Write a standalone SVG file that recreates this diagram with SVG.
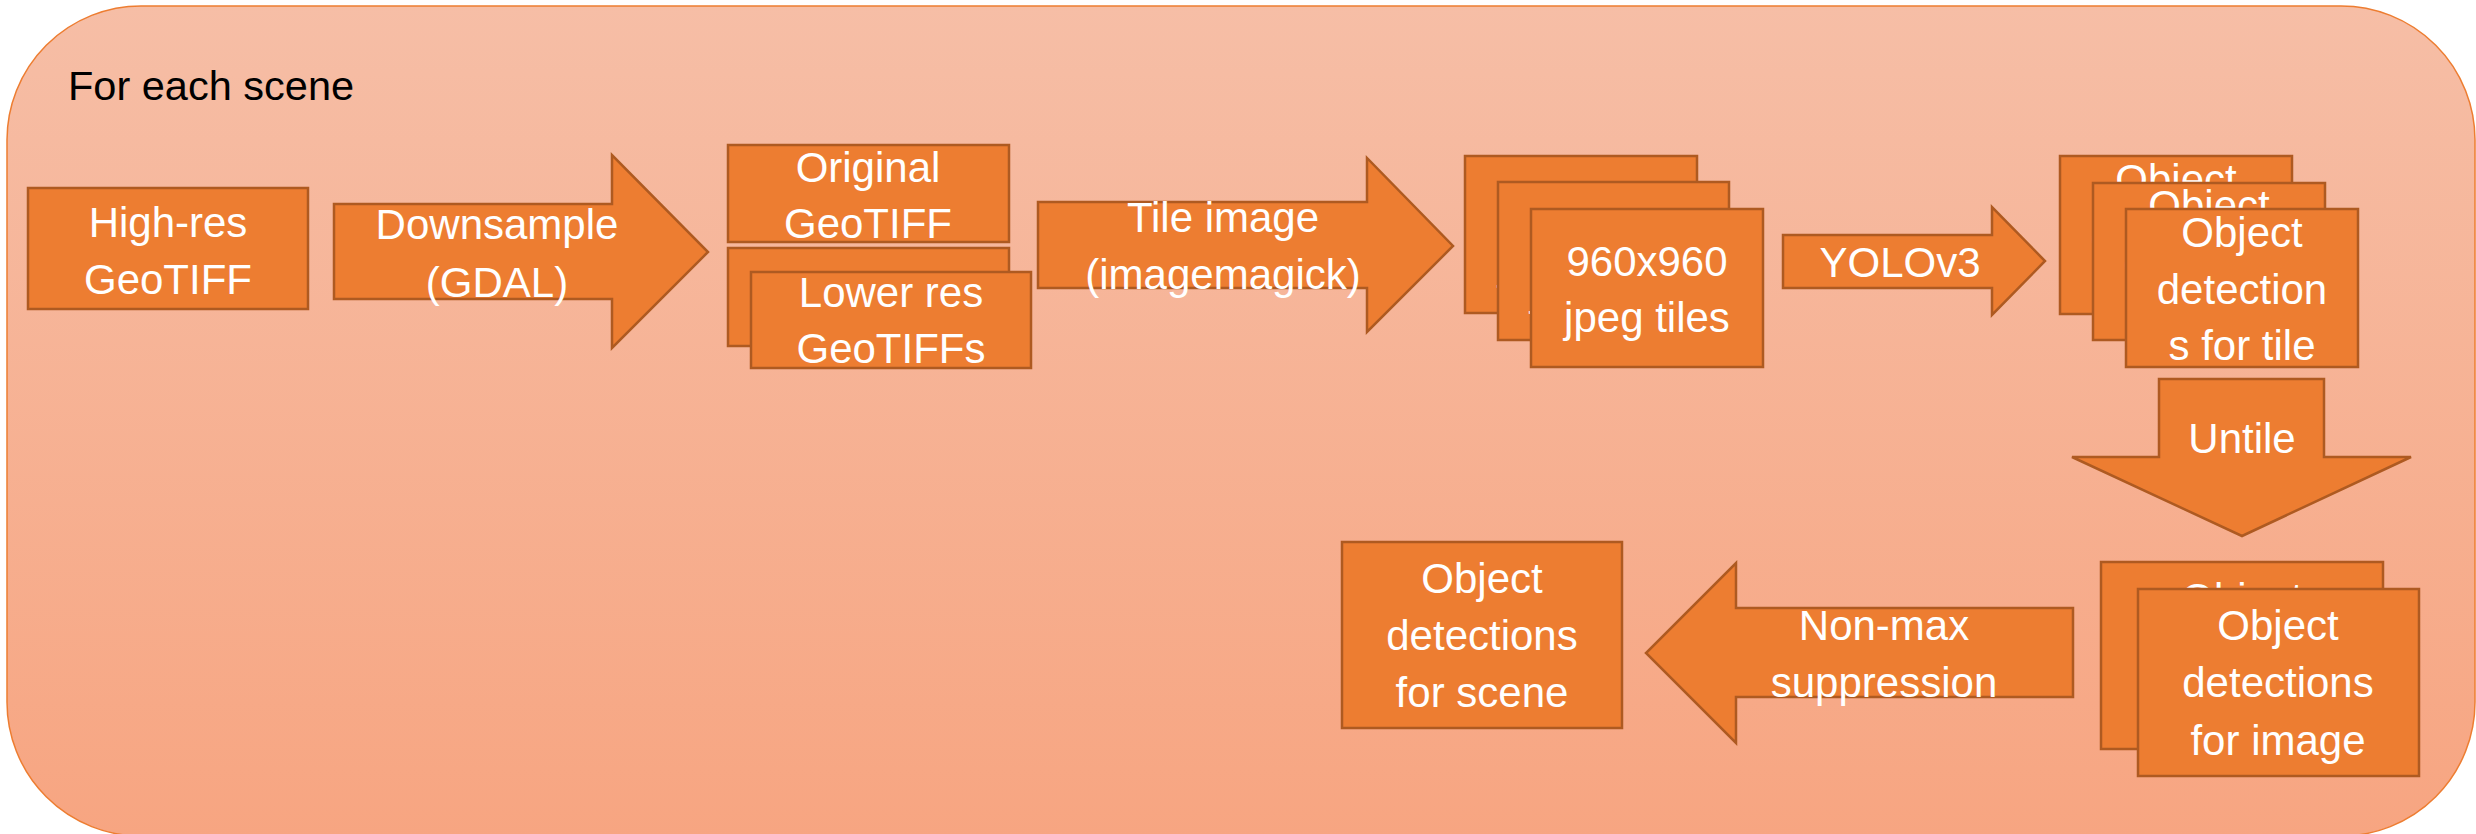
<svg xmlns="http://www.w3.org/2000/svg" width="2476" height="834" viewBox="0 0 2476 834">
  <defs>
    <linearGradient id="panelFill" x1="0" y1="0" x2="0" y2="1">
      <stop offset="0" stop-color="#F6BEA6"/>
      <stop offset="1" stop-color="#F7A581"/>
    </linearGradient>
  </defs>
  <style>
    .panel { fill: url(#panelFill); stroke: #ED7D31; stroke-width: 1.5; }
    .box { fill: #ED7D31; stroke: #AE5A21; stroke-width: 2.5; }
    .arrow { fill: #ED7D31; stroke: #AE5A21; stroke-width: 2.5; stroke-linejoin: miter; }
    .lbl { font-family: "Liberation Sans", Arial, sans-serif; font-size: 42px; fill: #FFFFFF; text-anchor: middle; }
    .title { font-family: "Liberation Sans", Arial, sans-serif; font-size: 41.5px; fill: #000000; }
  </style>

  <!-- loop container -->
  <g id="scene-loop">
    <rect class="panel" x="7" y="6" width="2468" height="830" rx="134" ry="134"/>
    <text class="title" x="68" y="100">For each scene</text>
  </g>

  <!-- process steps (block arrows) -->
  <g id="connectors">
    <g id="step-downsample">
      <path class="arrow" d="M334,204 H612 V155 L708,252 L612,348 V299 H334 Z"/>
      <text class="lbl" x="497" y="239">Downsample</text>
      <text class="lbl" x="497" y="297">(GDAL)</text>
    </g>
    <g id="step-tile">
      <path class="arrow" d="M1038,202 H1367 V158 L1453,246 L1367,332 V288 H1038 Z"/>
      <text class="lbl" x="1223" y="232">Tile image</text>
      <text class="lbl" x="1223" y="289">(imagemagick)</text>
    </g>
    <g id="step-yolo">
      <path class="arrow" d="M1783,235 H1992 V207 L2045,261 L1992,315 V288 H1783 Z"/>
      <text class="lbl" x="1900" y="277">YOLOv3</text>
    </g>
    <g id="step-untile">
      <path class="arrow" d="M2159,379 H2324 V457 H2411 L2242,536 L2072,457 H2159 Z"/>
      <text class="lbl" x="2242" y="453">Untile</text>
    </g>
    <g id="step-nms">
      <path class="arrow" d="M2073,608 V697 H1736 V743 L1646,653 L1736,563 V608 Z"/>
      <text class="lbl" x="1884" y="640">Non-max</text>
      <text class="lbl" x="1884" y="697">suppression</text>
    </g>
  </g>

  <!-- data nodes -->
  <g id="highres-geotiff">
    <rect class="box" x="28" y="188" width="280" height="121"/>
    <text class="lbl" x="168" y="237">High-res</text>
    <text class="lbl" x="168" y="294">GeoTIFF</text>
  </g>

  <g id="original-geotiff">
    <rect class="box" x="728" y="145" width="281" height="97"/>
    <text class="lbl" x="868" y="182">Original</text>
    <text class="lbl" x="868" y="238">GeoTIFF</text>
  </g>

  <g id="lower-res-geotiffs">
    <rect class="box" x="728" y="248" width="281" height="98"/>
    <rect class="box" x="751" y="272" width="280" height="96"/>
    <text class="lbl" x="891" y="307">Lower res</text>
    <text class="lbl" x="891" y="363">GeoTIFFs</text>
  </g>

  <g id="jpeg-tiles">
    <rect class="box" x="1465" y="156" width="232" height="157"/>
    <text class="lbl" x="1581" y="222">960x960</text>
    <text class="lbl" x="1581" y="279">jpeg tiles</text>
    <rect class="box" x="1498" y="182" width="231" height="158"/>
    <text class="lbl" x="1613" y="249">960x960</text>
    <text class="lbl" x="1613" y="305">jpeg tiles</text>
    <rect class="box" x="1531" y="209" width="232" height="158"/>
    <text class="lbl" x="1647" y="276">960x960</text>
    <text class="lbl" x="1647" y="332">jpeg tiles</text>
  </g>

  <g id="tile-detections">
    <rect class="box" x="2060" y="156" width="232" height="158"/>
    <text class="lbl" x="2176" y="194">Object</text>
    <text class="lbl" x="2176" y="251">detection</text>
    <text class="lbl" x="2176" y="307">s for tile</text>
    <rect class="box" x="2093" y="183" width="232" height="157"/>
    <text class="lbl" x="2209" y="220">Object</text>
    <text class="lbl" x="2209" y="277">detection</text>
    <text class="lbl" x="2209" y="333">s for tile</text>
    <rect class="box" x="2126" y="209" width="232" height="158"/>
    <text class="lbl" x="2242" y="247">Object</text>
    <text class="lbl" x="2242" y="304">detection</text>
    <text class="lbl" x="2242" y="360">s for tile</text>
  </g>

  <g id="image-detections">
    <rect class="box" x="2101" y="562" width="282" height="187"/>
    <text class="lbl" x="2242" y="613">Object</text>
    <text class="lbl" x="2242" y="670">detections</text>
    <text class="lbl" x="2242" y="728">for image</text>
    <rect class="box" x="2138" y="589" width="281" height="187"/>
    <text class="lbl" x="2278" y="640">Object</text>
    <text class="lbl" x="2278" y="697">detections</text>
    <text class="lbl" x="2278" y="755">for image</text>
  </g>

  <g id="scene-detections">
    <rect class="box" x="1342" y="542" width="280" height="186"/>
    <text class="lbl" x="1482" y="593">Object</text>
    <text class="lbl" x="1482" y="650">detections</text>
    <text class="lbl" x="1482" y="707">for scene</text>
  </g>
</svg>
